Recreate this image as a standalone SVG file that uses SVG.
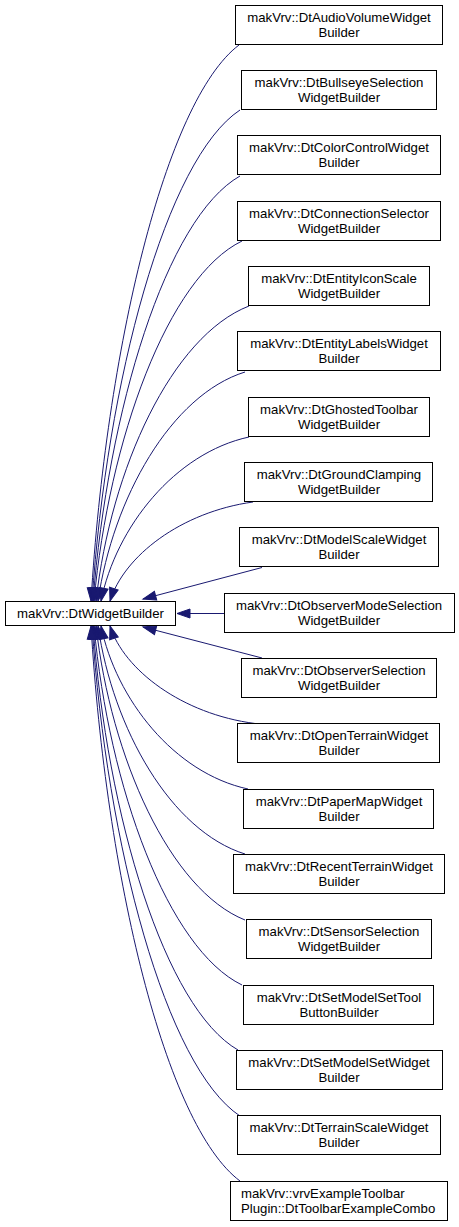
<svg xmlns="http://www.w3.org/2000/svg" width="459" height="1227" viewBox="0 0 459 1227">
<style>
.n rect{fill:#fff;stroke:#000;stroke-width:1}
.n text{font-family:"Liberation Sans",Arial,sans-serif;font-size:13.2px;fill:#000;text-anchor:middle}
.n text.l{text-anchor:start}
#edges path{fill:none;stroke:#191970;stroke-width:1;marker-end:url(#ah)}
</style>
<defs>
<marker id="ah" markerUnits="userSpaceOnUse" markerWidth="15" markerHeight="12" refX="13" refY="5" orient="auto" overflow="visible">
<path d="M0,0.5 L13,5 L0,9.5 Z" fill="#191970" stroke="#191970" stroke-width="1"/>
</marker>
</defs>
<rect width="459" height="1227" fill="#fff"/>
<g id="edges">
<path d="M239,45 C165,101 106,351 91,601"/>
<path d="M240,110 C166,159 107,380 92,601"/>
<path d="M240,176 C166,218 108,410 93,601"/>
<path d="M242,241 C168,277 109,439 94,601"/>
<path d="M249,306 C172,336 111,468 96,601"/>
<path d="M245,372 C171,395 113,498 98,601"/>
<path d="M249,437 C175,453 116,527 101,601"/>
<path d="M253,502 C181,512 124,556 110,601"/>
<path d="M262,567.5 L143,599"/>
<path d="M224,613.5 L177,613.5"/>
<path d="M262,658 L143,627"/>
<path d="M255,723.5 C182,714 124,670 110,626"/>
<path d="M248,789 C174,773 116,699 101,626"/>
<path d="M245,854 C171,831 113,729 98,626"/>
<path d="M245,920 C170,890 111,758 96,626"/>
<path d="M242,985 C168,949 109,788 94,626"/>
<path d="M238,1050 C165,1008 107,817 93,626"/>
<path d="M240,1116 C166,1067 107,846 92,626"/>
<path d="M240,1181 C165,1125 106,876 91,626"/>
</g>
<g id="node-base" class="n"><rect x="5.5" y="601.5" width="170" height="24"/><text x="90.5" y="617.5">makVrv::DtWidgetBuilder</text></g>
<g id="node-0" class="n"><rect x="235.5" y="5.5" width="207" height="39"/><text x="339" y="22">makVrv::DtAudioVolumeWidget</text><text x="339" y="36.5">Builder</text></g>
<g id="node-1" class="n"><rect x="241.5" y="70.5" width="195" height="39"/><text x="339" y="87">makVrv::DtBullseyeSelection</text><text x="339" y="101.5">WidgetBuilder</text></g>
<g id="node-2" class="n"><rect x="237.5" y="135.5" width="203" height="39"/><text x="339" y="152">makVrv::DtColorControlWidget</text><text x="339" y="166.5">Builder</text></g>
<g id="node-3" class="n"><rect x="237.5" y="201.5" width="203" height="39"/><text x="339" y="218">makVrv::DtConnectionSelector</text><text x="339" y="232.5">WidgetBuilder</text></g>
<g id="node-4" class="n"><rect x="248.5" y="266.5" width="181" height="39"/><text x="339" y="283">makVrv::DtEntityIconScale</text><text x="339" y="297.5">WidgetBuilder</text></g>
<g id="node-5" class="n"><rect x="237.5" y="331.5" width="203" height="39"/><text x="339" y="348">makVrv::DtEntityLabelsWidget</text><text x="339" y="362.5">Builder</text></g>
<g id="node-6" class="n"><rect x="248.5" y="397.5" width="181" height="39"/><text x="339" y="414">makVrv::DtGhostedToolbar</text><text x="339" y="428.5">WidgetBuilder</text></g>
<g id="node-7" class="n"><rect x="244.5" y="462.5" width="188" height="39"/><text x="339" y="479">makVrv::DtGroundClamping</text><text x="339" y="493.5">WidgetBuilder</text></g>
<g id="node-8" class="n"><rect x="239.5" y="527.5" width="199" height="39"/><text x="339" y="544">makVrv::DtModelScaleWidget</text><text x="339" y="558.5">Builder</text></g>
<g id="node-9" class="n"><rect x="224.5" y="593.5" width="230" height="39"/><text x="339" y="610">makVrv::DtObserverModeSelection</text><text x="339" y="624.5">WidgetBuilder</text></g>
<g id="node-10" class="n"><rect x="241.5" y="658.5" width="195" height="39"/><text x="339" y="675">makVrv::DtObserverSelection</text><text x="339" y="689.5">WidgetBuilder</text></g>
<g id="node-11" class="n"><rect x="237.5" y="723.5" width="202" height="39"/><text x="339" y="740">makVrv::DtOpenTerrainWidget</text><text x="339" y="754.5">Builder</text></g>
<g id="node-12" class="n"><rect x="243.5" y="789.5" width="190" height="39"/><text x="339" y="806">makVrv::DtPaperMapWidget</text><text x="339" y="820.5">Builder</text></g>
<g id="node-13" class="n"><rect x="233.5" y="854.5" width="211" height="39"/><text x="339" y="871">makVrv::DtRecentTerrainWidget</text><text x="339" y="885.5">Builder</text></g>
<g id="node-14" class="n"><rect x="246.5" y="919.5" width="185" height="39"/><text x="339" y="936">makVrv::DtSensorSelection</text><text x="339" y="950.5">WidgetBuilder</text></g>
<g id="node-15" class="n"><rect x="243.5" y="985.5" width="190" height="39"/><text x="339" y="1002">makVrv::DtSetModelSetTool</text><text x="339" y="1016.5">ButtonBuilder</text></g>
<g id="node-16" class="n"><rect x="236.5" y="1050.5" width="206" height="39"/><text x="339" y="1067">makVrv::DtSetModelSetWidget</text><text x="339" y="1081.5">Builder</text></g>
<g id="node-17" class="n"><rect x="237.5" y="1115.5" width="203" height="39"/><text x="339" y="1132">makVrv::DtTerrainScaleWidget</text><text x="339" y="1146.5">Builder</text></g>
<g id="node-18" class="n"><rect x="230.5" y="1181.5" width="217" height="39"/><text class="l" x="241" y="1198">makVrv::vrvExampleToolbar</text><text class="l" x="241" y="1212.5">Plugin::DtToolbarExampleCombo</text></g>
</svg>
